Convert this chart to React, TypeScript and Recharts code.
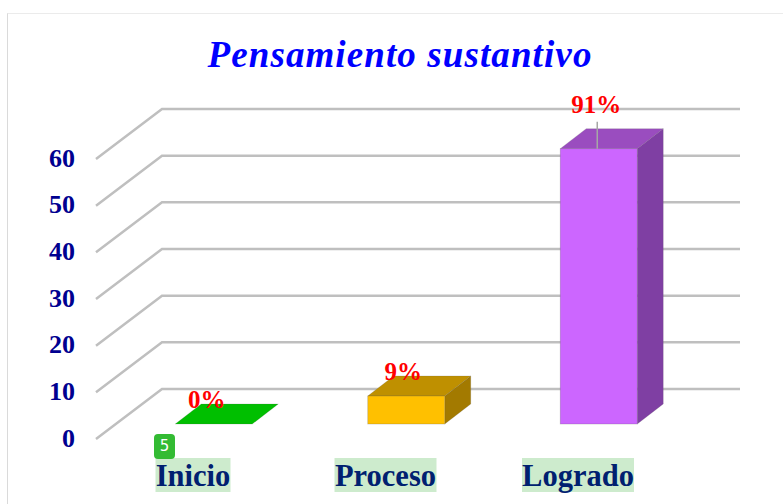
import React from "react";
import { BarChart, Bar, XAxis, YAxis, CartesianGrid } from "recharts";

const categories = ["Inicio", "Proceso", "Logrado"];
const counts = [0, 6, 59];
const percentLabels = ["0%", "9%", "91%"];
const yTicks = [0, 10, 20, 30, 40, 50, 60];
const chartTitle = "Pensamiento sustantivo";
const badgeText = "5";

const frontColors = ["#00BF00", "#FFC000", "#CC66FF"];
const topColors = ["#00BF00", "#BF9000", "#9A4DBF"];
const sideColors = ["#008F00", "#A37A00", "#7F3FA3"];
const labelDx = [-7, -3, -2.5];
const labelDy = [-25, -25, -44];
const tickBoxWidths: Record<string, number> = { Inicio: 75, Proceso: 102, Logrado: 112 };

const DEPTH_X = 26;
const DEPTH_Y = 20;
const SERIF = "'Liberation Serif', serif";

const data = categories.map((name, i) => ({ name, value: counts[i] }));

function Box3D(props: any) {
  const { x, y, width, height, index } = props;
  const top = `${x},${y} ${x + width},${y} ${x + width + DEPTH_X},${y - DEPTH_Y} ${x + DEPTH_X},${y - DEPTH_Y}`;
  const side = `${x + width},${y} ${x + width + DEPTH_X},${y - DEPTH_Y} ${x + width + DEPTH_X},${y + height - DEPTH_Y} ${x + width},${y + height}`;
  const edge = "rgba(90,90,90,0.3)";
  return (
    <g>
      {height > 0 && <polygon points={side} fill={sideColors[index]} stroke={edge} strokeWidth={0.6} />}
      <polygon points={top} fill={topColors[index]} stroke={edge} strokeWidth={0.6} />
      {height > 0 && <rect x={x} y={y} width={width} height={height} fill={frontColors[index]} stroke={edge} strokeWidth={0.8} />}
    </g>
  );
}

function PercentLabel(props: any) {
  const { x, y, width, index } = props;
  const cx = x + width / 2 + labelDx[index];
  const cy = y + labelDy[index];
  return (
    <g>
      {index === 2 && <line x1={cx + 1} y1={y - 27} x2={cx + 1} y2={y} stroke="#A6A6A6" strokeWidth={1.5} />}
      <text x={cx} y={cy} textAnchor="middle" dominantBaseline="central" fontFamily={SERIF} fontWeight="bold" fontSize={25} fill="#FF0000">
        {percentLabels[index]}
      </text>
    </g>
  );
}

function YTick(props: any) {
  const { y, payload } = props;
  return (
    <text x={75} y={y + 14} textAnchor="end" dominantBaseline="central" fontFamily={SERIF} fontWeight="bold" fontSize={26} fill="#000090">
      {payload.value}
    </text>
  );
}

function XTick(props: any) {
  const { x, payload } = props;
  const w = tickBoxWidths[payload.value];
  const cx = x - 20.5;
  return (
    <g>
      <rect x={cx - w / 2} y={458} width={w} height={34} fill="#CDEBCD" />
      <text x={cx} y={476} textAnchor="middle" dominantBaseline="central" fontFamily={SERIF} fontWeight="bold" fontSize={30.5} fill="#002070">
        {payload.value}
      </text>
    </g>
  );
}

function GridLine(props: any) {
  const { y1 } = props;
  const points = `96,${y1 + 15} 162,${y1 - 35} 740,${y1 - 35}`;
  return <polyline points={points} fill="none" stroke="#BFBFBF" strokeWidth={2.5} />;
}

export default function App() {
  return (
    <div style={{ position: "absolute", left: 0, top: 0, width: 783, height: 504, overflow: "hidden", background: "#fff" }}>
      <div style={{ position: "absolute", left: 7, top: 13, width: 800, height: 520, borderLeft: "1.5px solid #DADADA", borderTop: "1.5px solid #EBEBEB" }} />
      <BarChart
        width={783}
        height={504}
        data={data}
        margin={{ top: 144, right: 88.25, bottom: 0, left: 57.25 }}
        style={{ position: "absolute", left: 0, top: 0 }}
      >
        <CartesianGrid horizontal={GridLine as any} vertical={false} syncWithTicks />
        <XAxis dataKey="name" height={80} axisLine={false} tickLine={false} interval={0} tick={<XTick />} />
        <YAxis width={60} domain={[0, 60]} ticks={yTicks} axisLine={false} tickLine={false} interval={0} tick={<YTick />} />
        <Bar dataKey="value" barSize={77} isAnimationActive={false} shape={<Box3D />} label={<PercentLabel />} />
        <text x={400} y={67} textAnchor="middle" fontFamily={SERIF} fontWeight="bold" fontStyle="italic" fontSize={37} letterSpacing={1.1} fill="#0000FF">
          {chartTitle}
        </text>
      </BarChart>
      <div style={{ position: "absolute", left: 154, top: 434, width: 21, height: 25, borderRadius: 4, background: "#33BB33", color: "#fff", fontFamily: "'DejaVu Sans', sans-serif", fontSize: 15, lineHeight: "25px", textAlign: "center" }}>
        {badgeText}
      </div>
    </div>
  );
}
